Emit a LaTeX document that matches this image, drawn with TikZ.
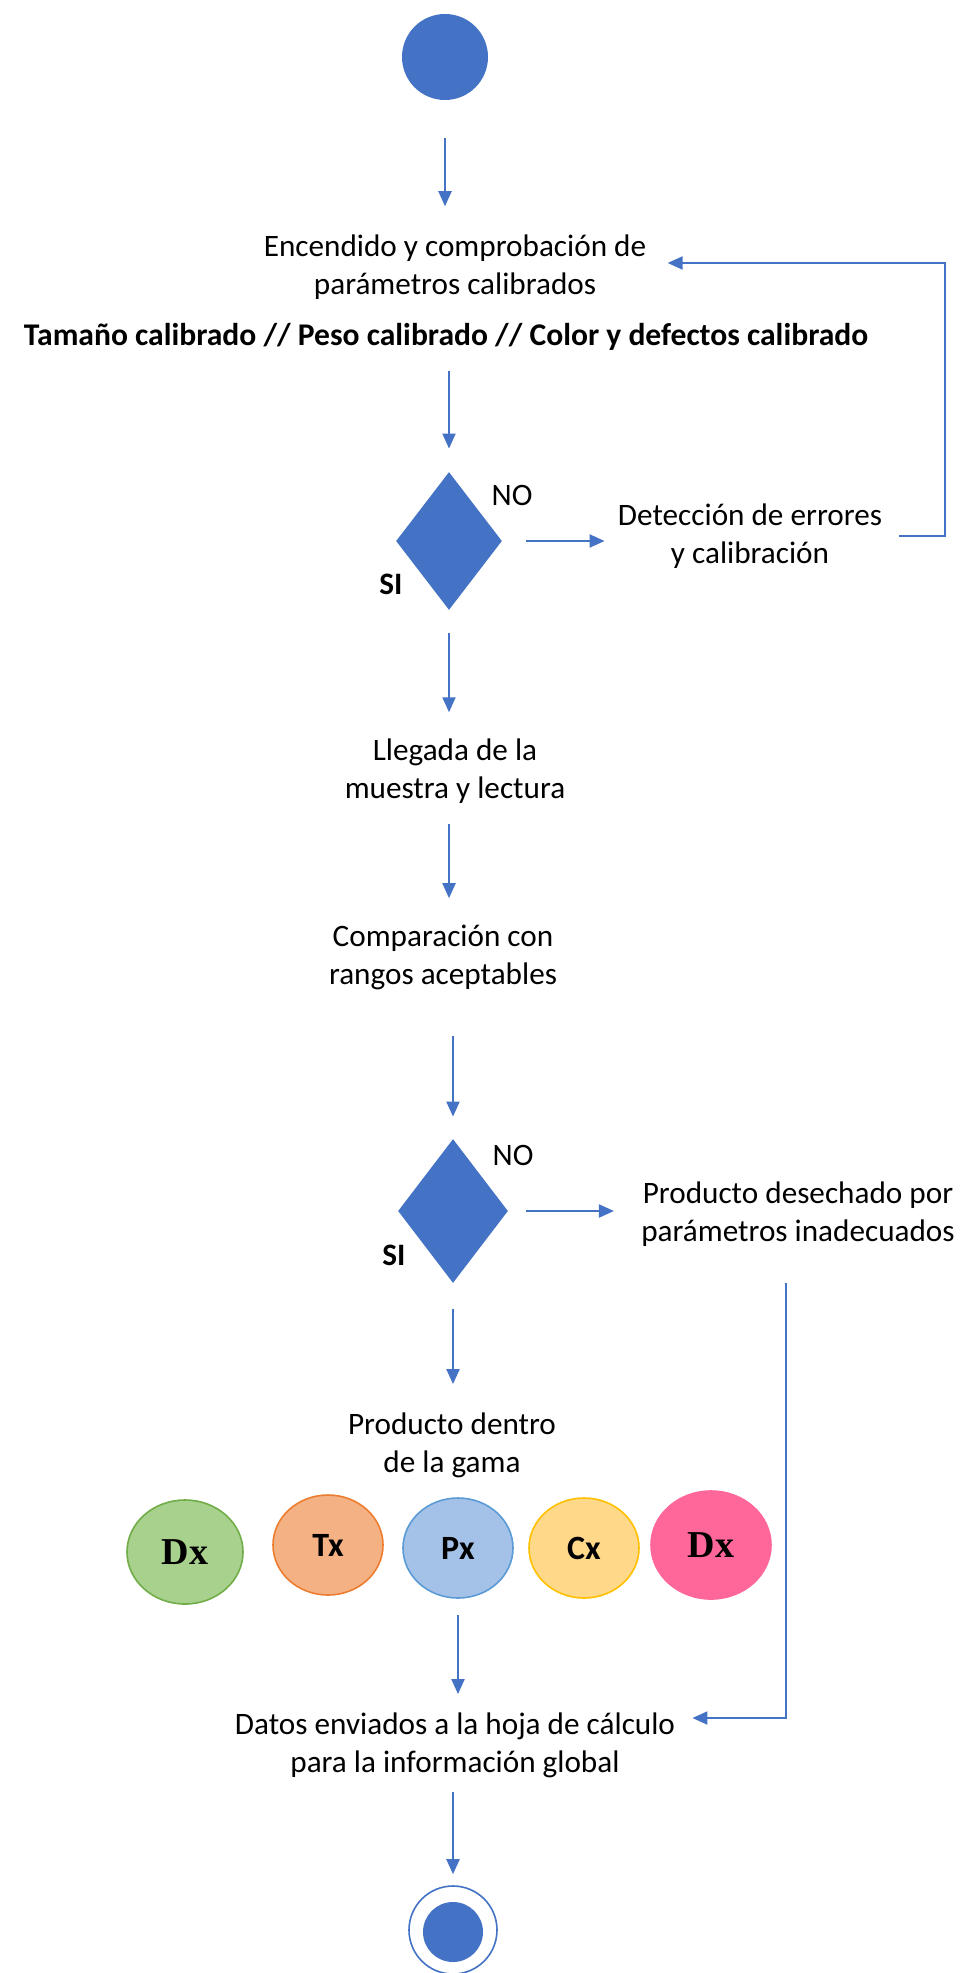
\documentclass[tikz,border=0pt]{standalone}
\usepackage{fontspec}
\setmainfont{Carlito}
\newfontfamily\timesfont{Liberation Serif}
\usetikzlibrary{shapes.geometric,arrows.meta}
\definecolor{ofblue}{HTML}{4472C4}
\definecolor{grnfill}{HTML}{A9D18E}
\definecolor{grnline}{HTML}{70AD47}
\definecolor{orgfill}{HTML}{F4B183}
\definecolor{orgline}{HTML}{ED7D31}
\definecolor{blufill}{HTML}{A4C2E8}
\definecolor{bluline}{HTML}{5B9BD5}
\definecolor{yelfill}{HTML}{FFD88A}
\definecolor{yelline}{HTML}{FFC000}
\definecolor{pinkfill}{HTML}{FF6699}
\tikzset{
  flow/.style={draw=ofblue, line width=1pt, -{Triangle[width=6.5pt,length=7.5pt]}},
  txt/.style={font=\fontsize{15.6}{19}\selectfont, align=center, inner sep=0pt},
  decision/.style={diamond, fill=ofblue, inner sep=0pt, minimum width=#1},
  gama/.style={ellipse, inner sep=0pt, line width=0.8pt}
}
\begin{document}
\begin{tikzpicture}[x=0.5pt, y=-0.5pt]
  \useasboundingbox (0,0) rectangle (979,1973);

  \node[circle, fill=ofblue, minimum size=43pt] (start) at (445,57) {};

  \node[txt] (enc) at (455,267) {Encendido y comprobación de\\parámetros calibrados};
  \node[txt, font=\fontsize{15.8}{19}\selectfont\bfseries] (cal) at (446,337)
       {Tamaño calibrado // Peso calibrado // Color y defectos calibrado};

  \node[decision=53pt, minimum height=69pt] (d1) at (449,541) {};
  \node[txt] (no1) at (512,495) {NO};
  \node[txt, font=\fontsize{15.6}{19}\selectfont\bfseries] (si1) at (391,584) {SI};
  \node[txt] (err) at (750,536) {Detección de errores\\y calibración};
  \coordinate (fb1) at (945,263);

  \node[txt] (lleg) at (455,771) {Llegada de la\\muestra y lectura};
  \node[txt] (comp) at (443,957) {Comparación con\\rangos aceptables};

  \node[decision=55pt, minimum height=72pt] (d2) at (453,1211) {};
  \node[txt] (no2) at (513,1155) {NO};
  \node[txt, font=\fontsize{15.6}{19}\selectfont\bfseries] (si2) at (394,1255) {SI};
  \node[txt] (des) at (798,1214) {Producto desechado por\\parámetros inadecuados};
  \coordinate (fb2) at (786,1718);

  \node[txt] (dentro) at (452,1445) {Producto dentro\\de la gama};

  \foreach \x/\y/\rx/\ry/\fc/\lc/\t [count=\i] in
    {185/1552/58/52/grnfill/grnline/{\timesfont\fontsize{19}{19}\selectfont Dx},
     328/1545/55/50/orgfill/orgline/Tx,
     458/1548/55/50/blufill/bluline/Px,
     584/1548/55/50/yelfill/yelline/Cx,
     711/1545/60/54/pinkfill/pinkfill/{\timesfont\fontsize{19}{19}\selectfont Dx}}
  {
    \node[gama, fill=\fc, draw=\lc, minimum width=\rx pt, minimum height=\ry pt,
          font=\fontsize{17}{17}\selectfont\bfseries] (g\i) at (\x,\y) {\t};
  }

  \node[txt] (datos) at (455,1745) {Datos enviados a la hoja de cálculo\\para la información global};

  \node[circle, draw=ofblue, line width=0.8pt, minimum size=44pt] (end) at (453,1930) {};
  \node[circle, fill=ofblue, minimum size=30pt] (endin) at (453,1932) {};

  \draw[flow, shorten <=19pt, shorten >=14pt] (start.south) -- (start.south |- enc.north);
  \draw[flow, shorten <=10pt, shorten >=11.5pt] (d1.north |- cal.south) -- (d1.north);
  \draw[flow, shorten <=12pt, shorten >=6.5pt] (d1.east) -- (d1.east -| err.west);
  \draw[flow, shorten <=8.5pt, shorten >=10.5pt] (err.east) -| (fb1) -- (fb1 -| enc.east);
  \draw[flow, shorten <=11.5pt, shorten >=13pt] (d1.south) -- (d1.south |- lleg.north);
  \draw[flow, shorten <=10pt, shorten >=13pt] (d1.south |- lleg.south) -- (d1.south |- comp.north);
  \draw[flow, shorten <=23pt, shorten >=11pt] (d2.north |- comp.south) -- (d2.north);
  \draw[flow, shorten <=9pt, shorten >=13.5pt] (d2.east) -- (d2.east -| des.west);
  \draw[flow, shorten <=18pt, shorten >=8.5pt] (fb2 |- des.south) -- (fb2) -- (fb2 -| datos.east);
  \draw[flow, shorten <=13pt, shorten >=14pt] (d2.south) -- (d2.south |- dentro.north);
  \draw[flow, shorten <=8pt, shorten >=9pt] (g3.south) -- (g3.south |- datos.north);
  \draw[flow, shorten <=7pt, shorten >=5.5pt] (end.north |- datos.south) -- (end.north);
\end{tikzpicture}
\end{document}
